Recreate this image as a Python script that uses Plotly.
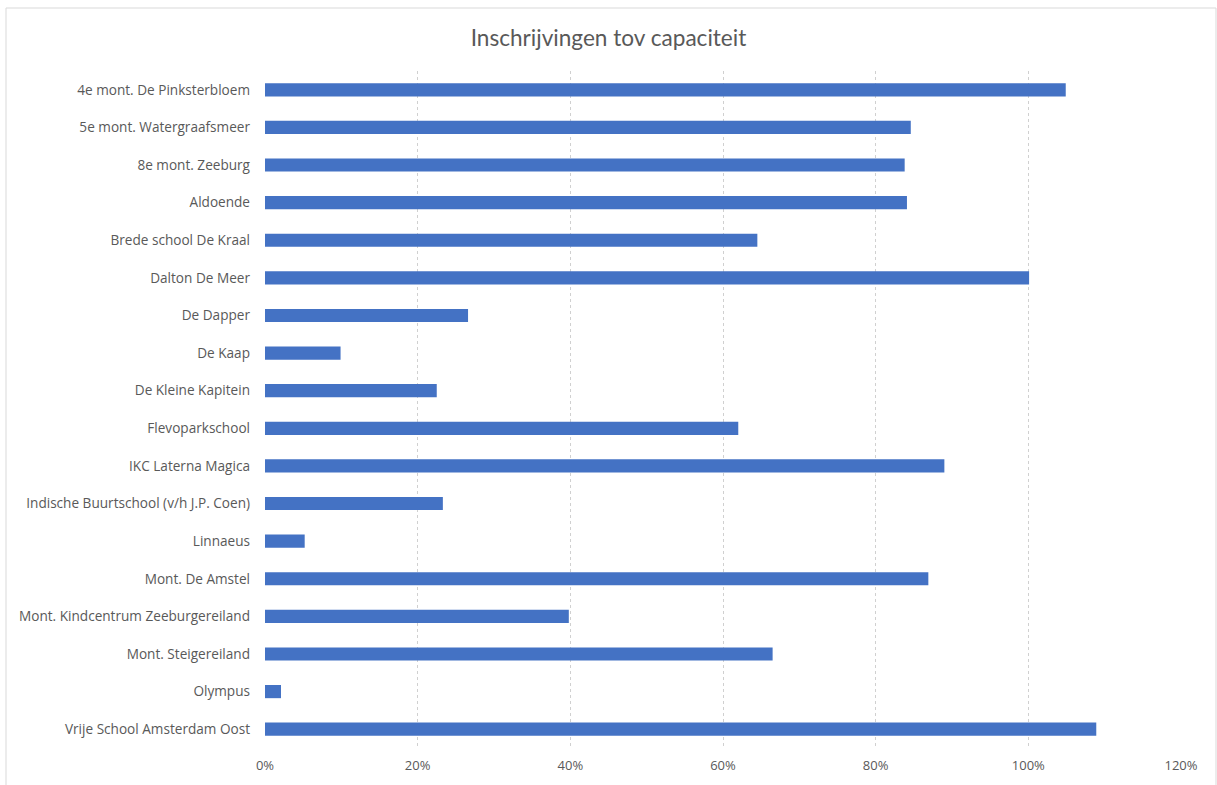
import plotly.graph_objects as go

schools = [
    "4e mont. De Pinksterbloem",
    "5e mont. Watergraafsmeer",
    "8e mont. Zeeburg",
    "Aldoende",
    "Brede school De Kraal",
    "Dalton De Meer",
    "De Dapper",
    "De Kaap",
    "De Kleine Kapitein",
    "Flevoparkschool",
    "IKC Laterna Magica",
    "Indische Buurtschool (v/h J.P. Coen)",
    "Linnaeus",
    "Mont. De Amstel",
    "Mont. Kindcentrum Zeeburgereiland",
    "Mont. Steigereiland",
    "Olympus",
    "Vrije School Amsterdam Oost",
]
ratio = [1.049, 0.846, 0.838, 0.841, 0.645, 1.001, 0.266, 0.099, 0.225, 0.620,
         0.890, 0.233, 0.052, 0.869, 0.398, 0.665, 0.021, 1.089]
tick_vals = [0, 0.2, 0.4, 0.6, 0.8, 1.0, 1.2]
tick_text = ["0%", "20%", "40%", "60%", "80%", "100%", "120%"]

W, H = 1217, 785
L, R, T, B = 265, 36, 71, 37
pw, ph = W - L - R, H - T - B


def px_x(p):
    return (p - L) / pw


def px_y(p):
    return (H - B - p) / ph


fig = go.Figure(go.Bar(
    x=ratio, y=schools, orientation="h",
    marker=dict(color="#4472C4", line=dict(width=0)),
    hoverinfo="skip",
))
fig.update_layout(
    width=W, height=H,
    margin=dict(l=L, r=R, t=T, b=B, autoexpand=False),
    paper_bgcolor="white", plot_bgcolor="white",
    bargap=0.65,
    showlegend=False,
    font=dict(family="Open Sans, sans-serif", color="#595959", size=13.6),
    title=dict(text="Inschrijvingen tov capaciteit", x=0.5, xanchor="center",
               y=1 - 38 / H, yanchor="middle",
               font=dict(size=22.6, color="#595959", family="Lato, sans-serif")),
    xaxis=dict(range=[0, 1.2], tickvals=tick_vals, ticktext=tick_text,
               showgrid=True, gridcolor="#D0D0D0", griddash="dot", gridwidth=1,
               zeroline=False, showline=False, ticks="", ticklabelstandoff=8,
               tickfont=dict(size=13, color="#595959")),
    yaxis=dict(autorange="reversed", showgrid=False, zeroline=False,
               showline=False, ticks="", ticklabelstandoff=14,
               tickfont=dict(size=13.6, color="#595959")),
    shapes=[dict(type="rect", xref="paper", yref="paper",
                 x0=px_x(6), x1=px_x(1216),
                 y0=px_y(H + 10), y1=px_y(8),
                 line=dict(color="#D9D9D9", width=1), fillcolor="rgba(0,0,0,0)",
                 layer="below")],
)
fig.write_html("out.html", config={"displayModeBar": False},
               post_script="document.body.style.margin='0';")
